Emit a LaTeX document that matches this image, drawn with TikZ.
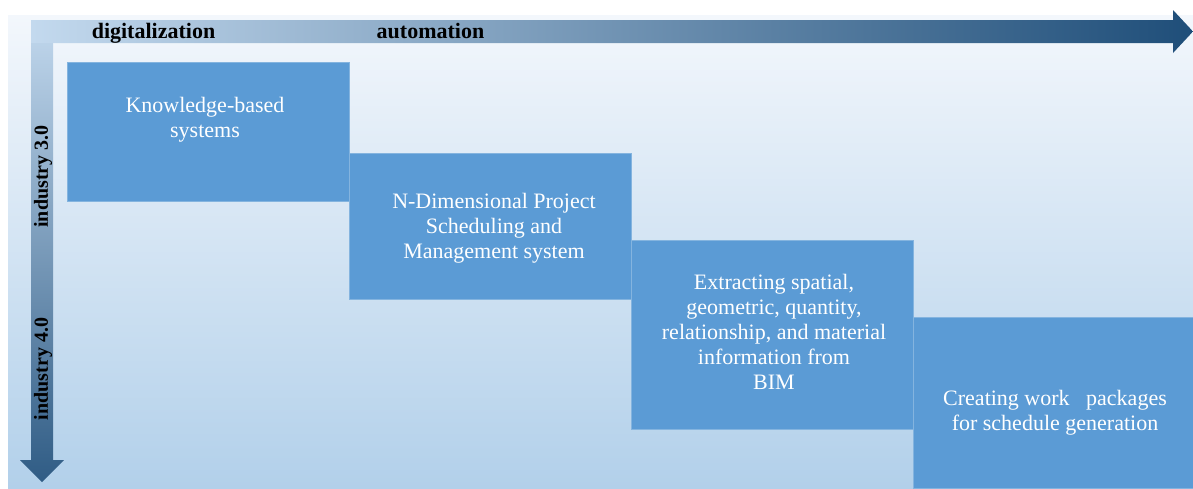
\documentclass[tikz,border=0pt]{standalone}
\usepackage{fontspec}
\setmainfont{Liberation Serif}
\usetikzlibrary{positioning}
\definecolor{stageblue}{HTML}{5B9BD5}
\definecolor{bgtop}{HTML}{F3F7FC}
\definecolor{bgbottom}{HTML}{B2D0EA}
\definecolor{arrowlight}{HTML}{C3D9EE}
\definecolor{arrowdark}{HTML}{1F4E79}
\tikzstyle{stagebox} = [fill=stageblue,draw=stageblue!75!white,line width=0.6pt,inner sep=0pt,anchor=north west]
\tikzstyle{stagetext} = [text=white,align=center,font=\fontsize{22}{25}\selectfont]
\tikzstyle{axislabel} = [text=black,font=\fontsize{22}{25}\selectfont\bfseries,anchor=base]

\begin{document}
\begin{tikzpicture}[x=1pt,y=-1pt]
	\useasboundingbox (0,0) rectangle (1193,488);
	% background
	\shade[top color=bgtop,bottom color=bgbottom] (8,15) rectangle (1193,488);
	% time axis (horizontal) and industry axis (vertical)
	\shade[left color=arrowlight,right color=arrowdark]
	(31,20) -- (1173,20) -- (1173,10) -- (1193,31.5) -- (1173,53) -- (1173,43) -- (31,43) -- cycle;
	\shade[top color=arrowlight!95!arrowdark,bottom color=arrowdark!90!arrowlight]
	(31,43) -- (53,43) -- (53,460) -- (64,460) -- (42,482) -- (20,460) -- (31,460) -- cycle;
	
	\node[axislabel] (digi) at (153.5,38) {digitalization};
	\node[axislabel] (auto) at (430.5,38) {automation};
	\node[axislabel,anchor=center,rotate=90,font=\fontsize{20}{24}\selectfont\bfseries] (ind3) at (43,176.5) {industry 3.0};
	\node[axislabel,anchor=center,rotate=90,font=\fontsize{20}{24}\selectfont\bfseries] (ind4) at (43,369) {industry 4.0};
	
	% stages
	\node[stagebox,minimum width=282pt,minimum height=139pt] (kbs) at (67,62) {};
	\node[stagebox,minimum width=282pt,minimum height=146pt] (ndim) at (349,153) {};
	\node[stagebox,minimum width=282pt,minimum height=189pt] (extract) at (631,240) {};
	\node[stagebox,minimum width=280pt,minimum height=171pt] (workpkg) at (913,317) {};
	
	\node[stagetext] (kbstext) at (205,120) {Knowledge-based\\systems};
	\node[stagetext] (ndimtext) at (494,228.5) {N-Dimensional Project\\Scheduling and\\Management system};
	\node[stagetext] (extracttext) at (774,332) {Extracting spatial,\\geometric, quantity,\\relationship, and material\\information from\\BIM};
	\node[stagetext] (workpkgtext) at (1055,412.5) {Creating work\ \ \ packages\\for schedule generation};
\end{tikzpicture}
\end{document}
